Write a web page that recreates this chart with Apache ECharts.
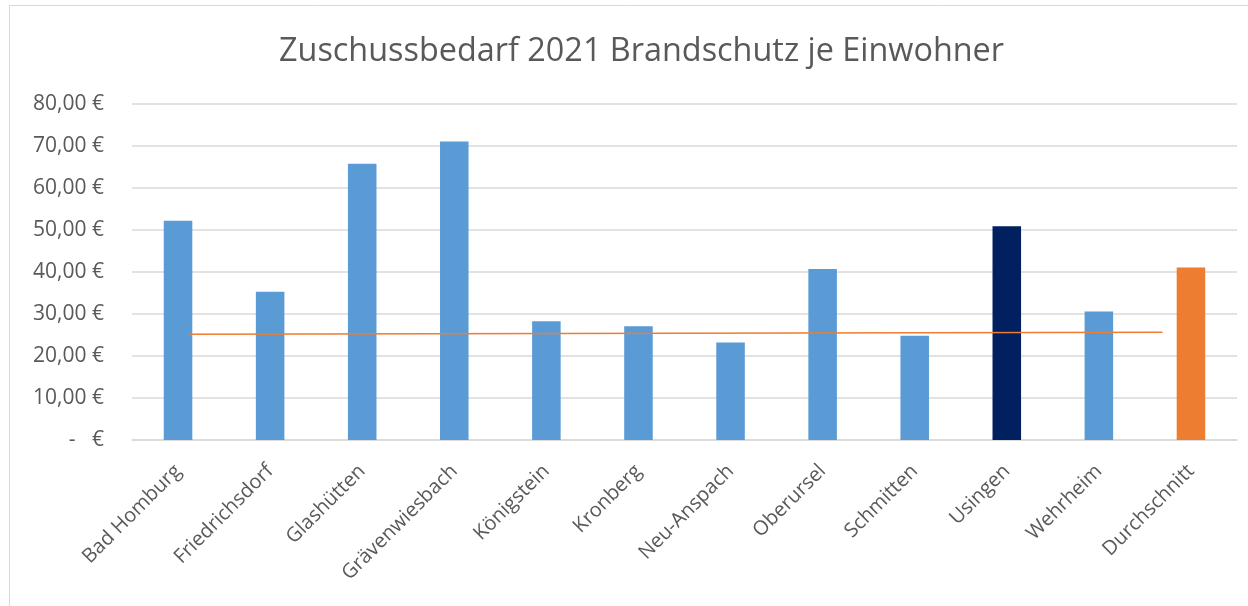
<!DOCTYPE html>
<html>
<head>
<meta charset="utf-8">
<script src="https://cdn.jsdelivr.net/npm/echarts@6/dist/echarts.min.js"></script>
<style>html,body{margin:0;padding:0;background:#fff}#c{width:1248px;height:606px}</style>
</head>
<body>
<div id="c"></div>
<script>
const titleText = 'Zuschussbedarf 2021 Brandschutz je Einwohner';
const categories = ['Bad Homburg','Friedrichsdorf','Glashütten','Grävenwiesbach','Königstein','Kronberg','Neu-Anspach','Oberursel','Schmitten','Usingen','Wehrheim','Durchschnitt'];
const values = [52.2, 35.3, 65.8, 71.1, 28.3, 27.1, 23.2, 40.7, 24.8, 50.9, 30.6, 41.1];
const barColors = ['#5b9bd5','#5b9bd5','#5b9bd5','#5b9bd5','#5b9bd5','#5b9bd5','#5b9bd5','#5b9bd5','#5b9bd5','#002060','#5b9bd5','#ed7d31'];
// orange reference line, x in category-index units, y in €
const lineX = [0.12, 10.69];
const lineY = [25.15, 25.65];
const yTicks = [0, 10, 20, 30, 40, 50, 60, 70, 80];

const font = '"Open Sans", "Noto Sans", sans-serif';
const chart = echarts.init(document.getElementById('c'));
chart.setOption({
  animation: false,
  title: {
    text: titleText, left: 274, top: 31,
    textStyle: {fontFamily: font, fontSize: 32.4, fontWeight: 'normal', color: '#595959'}
  },
  grid: {left: 132, right: 11, top: 104, bottom: 166, containLabel: false},
  xAxis: [{
    type: 'category', data: categories,
    axisLine: {show: true, lineStyle: {color: '#d9d9d9', width: 1.5}},
    axisTick: {show: false},
    axisLabel: {rotate: 45, interval: 0, margin: 28, fontFamily: font, fontSize: 20, color: '#595959'}
  }, {
    type: 'value', min: -0.5, max: categories.length - 0.5, show: false
  }],
  yAxis: {
    type: 'value', min: yTicks[0], max: yTicks[yTicks.length - 1], interval: 10,
    axisLine: {show: false}, axisTick: {show: false},
    splitLine: {lineStyle: {color: '#d9d9d9', width: 1.5}},
    axisLabel: {
      margin: 28, fontFamily: font, fontSize: 21, color: '#595959',
      formatter: v => v === 0 ? '-   €' : v.toFixed(2).replace('.', ',') + ' €'
    }
  },
  series: [{
    type: 'bar', xAxisIndex: 0, barWidth: '31%',
    data: values.map((v, i) => ({value: v, itemStyle: {color: barColors[i]}}))
  }, {
    type: 'line', xAxisIndex: 1, symbol: 'none',
    data: lineX.map((x, i) => [x, lineY[i]]),
    lineStyle: {color: '#ed7d31', width: 1.5}
  }],
  graphic: [{
    type: 'rect', shape: {x: 9.5, y: 5.5, width: 1300, height: 700},
    style: {fill: 'none', stroke: '#d9d9d9', lineWidth: 1}, silent: true, z: -1
  }]
});
</script>
</body>
</html>
